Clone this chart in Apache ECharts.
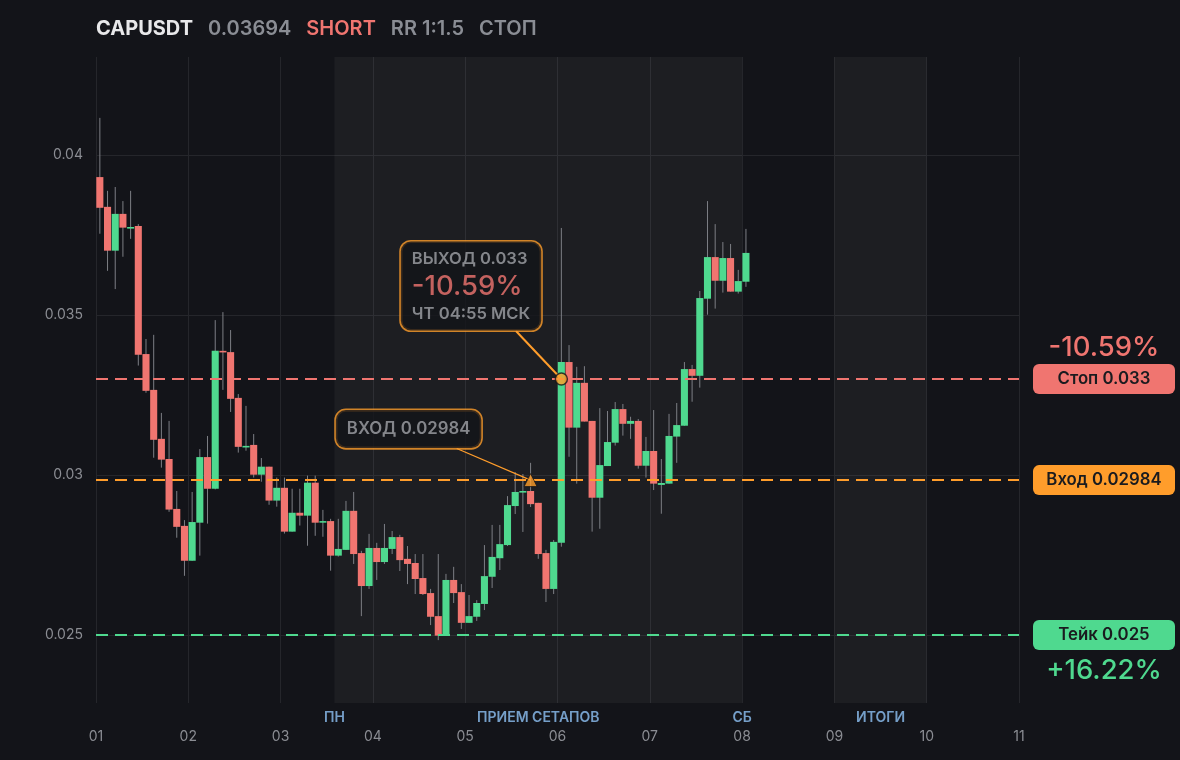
<!DOCTYPE html>
<html><head><meta charset="utf-8">
<script src="https://cdn.jsdelivr.net/npm/echarts@6/dist/echarts.min.js"></script>
<style>html,body{margin:0;padding:0;background:#131419;}#c{width:1180px;height:760px;}</style>
</head><body><div id="c"></div>
<script>
// ---- data ----
const opens  = [0.03931,0.03838,0.03701,0.03816,0.03773,0.03778,0.03378,0.03266,0.03113,0.03050,0.02894,0.02841,0.02732,0.02851,0.03056,0.02957,0.03388,0.03384,0.03241,0.03088,0.03094,0.03001,0.03026,0.02920,0.02960,0.02823,0.02882,0.02873,0.02976,0.02851,0.02856,0.02748,0.02766,0.02888,0.02756,0.02653,0.02772,0.02728,0.02769,0.02806,0.02738,0.02725,0.02678,0.02631,0.02559,0.02498,0.02672,0.02634,0.02538,0.02557,0.02597,0.02682,0.02740,0.02781,0.02903,0.02947,0.02950,0.02913,0.02756,0.02644,0.02788,0.03353,0.03148,0.03288,0.03169,0.02929,0.03028,0.03101,0.03206,0.03160,0.03169,0.03029,0.03075,0.02969,0.02973,0.03120,0.03154,0.03331,0.03310,0.03551,0.03681,0.03607,0.03678,0.03573,0.03604];
const closes = [0.03835,0.03701,0.03816,0.03773,0.03775,0.03376,0.03263,0.03110,0.03048,0.02892,0.02838,0.02732,0.02853,0.03056,0.02957,0.03388,0.03385,0.03238,0.03088,0.03091,0.03001,0.03026,0.02920,0.02960,0.02823,0.02882,0.02873,0.02976,0.02851,0.02856,0.02748,0.02769,0.02888,0.02753,0.02653,0.02772,0.02728,0.02772,0.02806,0.02734,0.02722,0.02675,0.02628,0.02557,0.02498,0.02672,0.02631,0.02538,0.02559,0.02600,0.02684,0.02744,0.02784,0.02906,0.02947,0.02950,0.02909,0.02753,0.02644,0.02791,0.03353,0.03148,0.03288,0.03167,0.02929,0.03031,0.03103,0.03206,0.03160,0.03169,0.03029,0.03075,0.02973,0.02975,0.03122,0.03156,0.03331,0.03310,0.03553,0.03681,0.03607,0.03678,0.03573,0.03606,0.03694];
const lows   = [0.03754,0.03638,0.03581,0.03682,0.03738,0.03342,0.03257,0.03054,0.03023,0.02885,0.02804,0.02685,0.02732,0.02748,0.02848,0.02955,0.03266,0.03197,0.03070,0.03076,0.02992,0.02979,0.02907,0.02901,0.02817,0.02823,0.02842,0.02779,0.02810,0.02807,0.02701,0.02745,0.02766,0.02722,0.02559,0.02644,0.02672,0.02722,0.02753,0.02700,0.02659,0.02628,0.02625,0.02531,0.02484,0.02498,0.02600,0.02519,0.02538,0.02544,0.02578,0.02647,0.02703,0.02778,0.02878,0.02822,0.02900,0.02738,0.02603,0.02628,0.02776,0.03057,0.02973,0.03167,0.02823,0.02832,0.03028,0.03092,0.03123,0.03113,0.03020,0.02992,0.02953,0.02879,0.02973,0.03038,0.03154,0.03229,0.03273,0.03501,0.03520,0.03570,0.03573,0.03567,0.03588];
const highs  = [0.04116,0.03888,0.03900,0.03856,0.03888,0.03784,0.03425,0.03438,0.03194,0.03169,0.02950,0.02859,0.02947,0.03081,0.03122,0.03484,0.03509,0.03453,0.03253,0.03216,0.03128,0.03053,0.03026,0.02992,0.02992,0.02957,0.02957,0.02998,0.02998,0.02891,0.02863,0.02863,0.02919,0.02947,0.02763,0.02816,0.02788,0.02847,0.02825,0.02813,0.02778,0.02753,0.02753,0.02644,0.02753,0.02691,0.02713,0.02659,0.02625,0.02609,0.02781,0.02844,0.02844,0.02934,0.03009,0.03003,0.03038,0.02913,0.02766,0.02797,0.03772,0.03406,0.03338,0.03340,0.03169,0.03209,0.03200,0.03228,0.03222,0.03182,0.03175,0.03119,0.03203,0.03050,0.03191,0.03225,0.03353,0.03344,0.03575,0.03856,0.03784,0.03728,0.03722,0.03641,0.03769];

const dayLabels = ['01','02','03','04','05','06','07','08','09','10','11'];
const candlesPerDay = 12;
const totalSlots = 120;
const yMin = 0.022875, yMax = 0.0430625;

const symbolName = 'CAPUSDT', lastPrice = '0.03694', side = 'SHORT', rr = 'RR 1:1.5', status = 'СТОП';
const stopPrice = 0.033, entryPrice = 0.02984, takePrice = 0.025;
const stopPct = '-10.59%', takePct = '+16.22%';

const shadeRanges = [[31, 84], [96, 108]];
const sessionNames = ['ПН', 'ПРИЕМ СЕТАПОВ', 'СБ', 'ИТОГИ'];
const sessionSlots = [31, 57.5, 84, 102];

const exitSlot = 60, entrySlot = 56;
const exitText = ['ВЫХОД 0.033', '-10.59%', 'ЧТ 04:55 МСК'];
const entryText = 'ВХОД 0.02984';
const exitLeaderFrom = [54.6, 0.0345];
const entryLeaderFrom = [46.9, 0.03083];

// ---- style ----
const BG = '#131419', GREEN = '#4fd98f', RED = '#f07570', ORANGE = '#ff9d2b';
const GRIDC = '#25262b', GRAY = '#8b8d93', WICK = '#7d7f85', NOTE = '#a0a2a8';
const FONT = 'Inter';

const categories = Array.from({length: totalSlots}, (_, i) => String(i));
const candleData = opens.map((o, i) => [i, o, closes[i], lows[i], highs[i]]);

const chart = echarts.init(document.getElementById('c'), null, {renderer: 'canvas'});

const pillRich = (bg) => ({
  width: 142, height: 30, lineHeight: 30, align: 'center',
  backgroundColor: bg, borderRadius: 6, color: '#1a1b1f',
  fontSize: 16.8, fontWeight: 600, fontFamily: FONT
});
const pctRich = (c, lh) => ({
  width: 142, align: 'center', color: c, fontSize: 27.5, fontWeight: 500, fontFamily: FONT, lineHeight: lh
});

chart.setOption({
  backgroundColor: BG,
  animation: false,
  textStyle: {fontFamily: FONT},
  title: {
    left: 96, top: 19, padding: 0,
    text: '{a|' + symbolName + '}{b|' + lastPrice + '}{c|' + side + '}{b|' + rr + '}{b|' + status + '}',
    textStyle: {
      rich: {
        a: {fontSize: 20, fontWeight: 700, color: '#e8e8ea', fontFamily: FONT},
        b: {fontSize: 20, fontWeight: 600, color: '#8a8d94', fontFamily: FONT, padding: [0, 0, 0, 15]},
        c: {fontSize: 20, fontWeight: 600, color: RED, fontFamily: FONT, padding: [0, 0, 0, 15]}
      }
    }
  },
  grid: {left: 96, right: 161, top: 57, bottom: 57},
  xAxis: [
    {type: 'category', data: categories, boundaryGap: true, show: false},
    {
      type: 'value', min: 0, max: totalSlots, interval: candlesPerDay, position: 'bottom',
      axisLine: {show: false}, axisTick: {show: false},
      axisLabel: {color: GRAY, fontSize: 14, margin: 27, fontFamily: FONT,
        formatter: v => dayLabels[Math.round(v / candlesPerDay)]},
      splitLine: {show: true, lineStyle: {color: GRIDC, width: 1}}
    }
  ],
  yAxis: {
    type: 'value', min: yMin, max: yMax, splitNumber: 4, position: 'left',
    axisLine: {show: false}, axisTick: {show: false},
    axisLabel: {color: GRAY, fontSize: 14, margin: 13, fontFamily: FONT, showMinLabel: false, showMaxLabel: false},
    splitLine: {show: true, showMinLine: false, showMaxLine: false, lineStyle: {color: GRIDC, width: 1}}
  },
  series: [
    {
      type: 'line', xAxisIndex: 1, data: [], silent: true,
      markArea: {
        silent: true,
        itemStyle: {color: 'rgba(255,255,255,0.045)'},
        data: shadeRanges.map(r => [{xAxis: r[0]}, {xAxis: r[1]}])
      },
      markLine: {
        silent: true, symbol: 'none', precision: 8,
        lineStyle: {type: [12, 7], width: 2},
        label: {position: 'end', distance: 14},
        data: [
          {yAxis: stopPrice, lineStyle: {color: RED, type: [12, 7], width: 2},
            label: {formatter: '{p|' + stopPct + '}\n{pill|Стоп ' + stopPrice + '}\n{gap| }',
              rich: {p: pctRich(RED, 32), pill: pillRich(RED), gap: {lineHeight: 32, fontSize: 10}}}},
          {yAxis: entryPrice, lineStyle: {color: ORANGE, type: [12, 7], width: 2},
            label: {formatter: '{pill|Вход ' + entryPrice + '}', rich: {pill: pillRich(ORANGE)}}},
          {yAxis: takePrice, lineStyle: {color: GREEN, type: [12, 7], width: 2},
            label: {formatter: '{gap| }\n{pill|Тейк ' + takePrice + '}\n{p|' + takePct + '}',
              rich: {p: pctRich(GREEN, 42), pill: pillRich(GREEN), gap: {lineHeight: 42, fontSize: 10}}}}
        ]
      }
    },
    {
      type: 'custom', xAxisIndex: 0, yAxisIndex: 0, z: 3,
      data: candleData,
      encode: {x: 0, y: [1, 2, 3, 4]},
      renderItem: function (params, api) {
        const i = api.value(0), o = api.value(1), c = api.value(2), l = api.value(3), h = api.value(4);
        const pO = api.coord([i, o]), pC = api.coord([i, c]), pL = api.coord([i, l]), pH = api.coord([i, h]);
        const w = api.size([1, 0])[0] * 0.92;
        const top = Math.min(pO[1], pC[1]);
        const hgt = Math.max(Math.abs(pO[1] - pC[1]), 1.6);
        return {
          type: 'group',
          children: [
            {type: 'line', shape: {x1: pH[0], y1: pH[1], x2: pL[0], y2: pL[1]}, style: {stroke: WICK, lineWidth: 1}},
            {type: 'rect', shape: {x: pO[0] - w / 2, y: top, width: w, height: hgt}, style: {fill: c >= o ? GREEN : RED}}
          ]
        };
      }
    },
    {
      type: 'line', xAxisIndex: 1, z: 4, silent: true, showSymbol: false,
      lineStyle: {color: ORANGE, width: 2},
      data: [exitLeaderFrom, [exitSlot + 0.5, stopPrice]]
    },
    {
      type: 'line', xAxisIndex: 1, z: 4, silent: true, showSymbol: false,
      lineStyle: {color: ORANGE, width: 1.2},
      data: [entryLeaderFrom, [entrySlot + 0.5, entryPrice]]
    },
    {
      type: 'scatter', xAxisIndex: 1, z: 6, silent: true, clip: false,
      data: [
        {value: [exitSlot + 0.5, stopPrice], symbol: 'circle', symbolSize: 12,
          itemStyle: {color: ORANGE, borderColor: BG, borderWidth: 1.5},
          label: {show: true, position: 'inside', align: 'left', verticalAlign: 'middle', offset: [-160.5, -93],
            formatter: '{t|' + exitText[0] + '}\n{p|' + exitText[1] + '}\n{t2|' + exitText[2] + '}',
            backgroundColor: BG, borderColor: ORANGE, borderWidth: 1.6, borderRadius: 10,
            padding: [4, 11, 5, 11],
            rich: {
              t: {fontSize: 16.6, fontWeight: 600, color: NOTE, lineHeight: 26, fontFamily: FONT},
              p: {fontSize: 27.5, fontWeight: 500, color: RED, lineHeight: 30, fontFamily: FONT},
              t2: {fontSize: 16.6, fontWeight: 600, color: NOTE, lineHeight: 24, fontFamily: FONT}
            }}},
        {value: [entrySlot + 0.5, entryPrice], symbol: 'triangle', symbolSize: 13,
          itemStyle: {color: ORANGE, borderColor: BG, borderWidth: 1},
          label: {show: true, position: 'inside', offset: [-122, -51],
            formatter: '{t|' + entryText + '}',
            backgroundColor: BG, borderColor: ORANGE, borderWidth: 1.6, borderRadius: 10,
            padding: [7, 11, 7, 11],
            rich: {t: {fontSize: 16.8, fontWeight: 600, color: NOTE, lineHeight: 24, fontFamily: FONT}}}}
      ]
    },
    {
      type: 'scatter', xAxisIndex: 1, z: 6, silent: true, clip: false, symbolSize: 0,
      data: sessionSlots.map((s, k) => ({value: [s, yMin], name: sessionNames[k]})),
      label: {show: true, position: 'bottom', distance: 8, formatter: p => p.name,
        color: '#8fc2f5', fontSize: 14, fontWeight: 600, fontFamily: FONT}
    }
  ]
});
</script>
</body></html>
